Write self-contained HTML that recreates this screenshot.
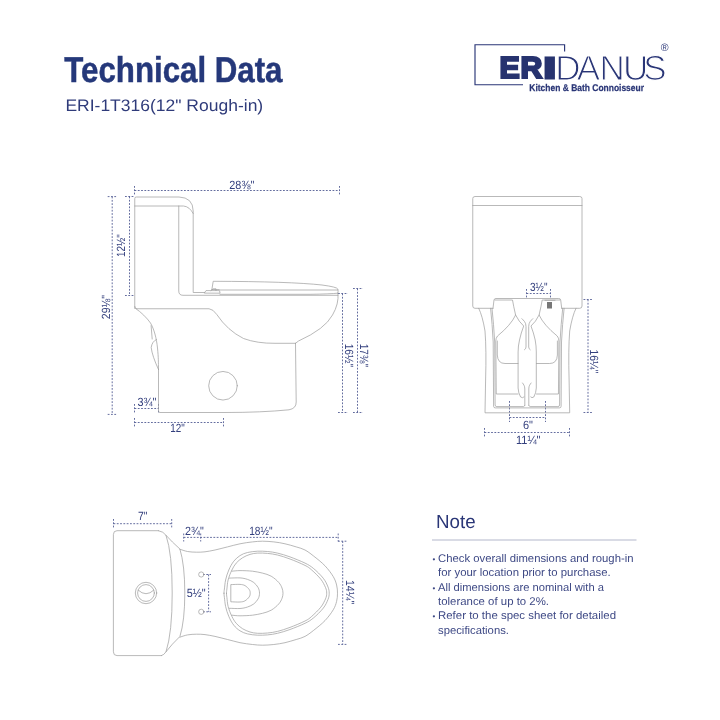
<!DOCTYPE html>
<html lang="en">
<head>
<meta charset="utf-8">
<title>Technical Data - ERI-1T316</title>
<style>
html,body{margin:0;padding:0;background:#fff;}
body{width:720px;height:720px;overflow:hidden;font-family:"Liberation Sans",sans-serif;}
svg{display:block;will-change:transform;}
text{font-family:"Liberation Sans",sans-serif;text-rendering:geometricPrecision;}
.ln{fill:none;stroke:#9d9d9d;stroke-width:0.72;stroke-linecap:round;stroke-linejoin:round;}
.dm{fill:none;stroke:#525c94;stroke-width:0.9;stroke-dasharray:1.8 1.5;}
.dt{font-size:11.9px;fill:#333f7d;}
.nt{font-size:11.2px;fill:#3e4985;}
</style>
</head>
<body>
<svg width="720" height="720" viewBox="0 0 720 720" fill="#2a3677">
<rect width="720" height="720" fill="#ffffff"/>

<!-- HEADER -->
<g id="header">
<text x="64.300" y="82.100" font-size="36" font-weight="bold" fill="#25387a" stroke="#25387a" stroke-width="0.500" textLength="218.200" lengthAdjust="spacingAndGlyphs">Technical Data</text>
<text x="65.400" y="111.300" font-size="16.600" fill="#2f3b7a" textLength="197.800" lengthAdjust="spacingAndGlyphs">ERI-1T316(12" Rough-in)</text>
</g>

<!-- LOGO -->
<g id="logo">
<path d="M564.600 51.500V44.750H475V84.750H523" fill="none" stroke="#2a3677" stroke-width="1.150"/>
<text font-weight="bold" fill="#27336f" stroke="#27336f" stroke-linejoin="miter"><tspan x="499.400" y="78.300" font-size="30.300" stroke-width="2.200" letter-spacing="0.800">ER</tspan><tspan x="546.400" y="75.900" font-size="23.300" stroke-width="7">I</tspan></text>
<text x="555.300 576.700 599.600 623 643.300" y="79.850" font-size="35" fill="#2a3677" stroke="#ffffff" stroke-width="1.100">DANUS</text>
<text x="529.300" y="91.200" font-size="9.700" font-weight="bold" fill="#2a3677" stroke="#2a3677" stroke-width="0.250" textLength="114.700" lengthAdjust="spacingAndGlyphs">Kitchen &amp; Bath Connoisseur</text>
<text x="660.700" y="50.700" font-size="10.600" fill="#2a3677">®</text>
</g>

<!-- SIDE VIEW -->
<g id="side">
<!-- dims -->
<path class="dm" d="M134.5 190.5H339.5M134.5 186V195M339.5 186V195"/>
<path class="dm" d="M112.200 196.600V414.400M107.700 196.600H116.700M107.700 414.400H116.700"/>
<path class="dm" d="M129.5 196.5V295.5M125 196.5H134M125 295.5H134"/>
<path class="dm" d="M134.5 408.5H158.5M134.5 404V413M158.5 404V413"/>
<path class="dm" d="M134.5 422.5H223.5M134.5 418V427M223.5 418V427"/>
<path class="dm" d="M342.5 293.5V412.5M338 293.5H348M338 412.5H348"/>
<path class="dm" d="M357.5 288.5V412.5M353 288.5H363M353 412.5H363"/>
<text class="dt" x="229.300" y="188.500" textLength="25" lengthAdjust="spacingAndGlyphs">28⅜"</text>
<text class="dt" transform="translate(110 319.200) rotate(-90)" textLength="24.200" lengthAdjust="spacingAndGlyphs">29⅛"</text>
<text class="dt" transform="translate(125.300 257) rotate(-90)" textLength="22.800" lengthAdjust="spacingAndGlyphs">12½"</text>
<text class="dt" x="137.5" y="406" textLength="19" lengthAdjust="spacingAndGlyphs">3¾"</text>
<text class="dt" x="170.300" y="432.200" textLength="14.500" lengthAdjust="spacingAndGlyphs">12"</text>
<text class="dt" transform="translate(344.600 343.700) rotate(90)" textLength="23.300" lengthAdjust="spacingAndGlyphs">16½"</text>
<text class="dt" transform="translate(359.600 343.700) rotate(90)" textLength="23.300" lengthAdjust="spacingAndGlyphs">17⅜"</text>
<!-- outline -->
<path class="ln" d="M134.75 308.5V198.5Q134.75 197 136.3 197H179Q193 197.5 193.2 211V292.5H204.5"/>
<path class="ln" d="M134.75 206H183.5Q189.5 206.5 193.2 213.5"/>
<path class="ln" d="M178.75 206V291Q178.75 295.3 183 295.3H338"/>
<path class="ln" d="M134.75 306.5Q134.75 308.75 137 308.75H209Q213 309 216.800 314.500Q227.500 330.500 243.500 338.500Q257 343.500 275 343.300H295.500"/>
<!-- hinge -->
<path class="ln" d="M204.5 292.8L206 290.6H219.5L220 292.8ZM211 290.6L213.2 288.8H216V290.6"/>
<!-- seat -->
<path class="ln" d="M211.9 289.5L213.2 281.3Q290 281.5 322 285Q337 287 337.8 289Q338.5 291 337.8 293.2"/>
<path class="ln" d="M211.9 289.5H219L220 290H337.8"/>
<path class="ln" d="M220 294.3H310Q330 294 337.8 293.2"/>
<!-- bowl -->
<path class="ln" d="M338 293.2Q339 304 332.5 315Q325 329 298.5 341L295.5 343.3"/>
<!-- pedestal -->
<path class="ln" d="M295.5 343.3L296.2 402Q296.3 408.5 289 409.8Q262 412.500 225 412.500H160Q158.500 412.500 158.500 411V369.500"/>
<path class="ln" d="M135.600 308.500C141 312 147 318 150.500 323C154 329 156.500 338 157.500 348S158.400 362 158.500 369.500"/>
<path class="ln" d="M151.100 325.600L152.200 339M156.500 339.500Q152 341.500 151.200 347.500Q152.200 356 158.500 369.500"/>
<circle class="ln" cx="223" cy="385.75" r="14.3"/>
</g>

<!-- FRONT VIEW -->
<g id="front">
<!-- dims -->
<path class="dm" d="M526.5 293.5H550.5M526.5 289V298M550.5 289V298"/>
<path class="dm" d="M588 299.500V412.500M583.500 299.500H593M583.500 412.500H593"/>
<path class="dm" d="M509.5 417.5H545.5M509.5 401V422M545.5 401V422"/>
<path class="dm" d="M484.5 432.5H569.5M484.5 428V437M569.5 428V437"/>
<text class="dt" x="530" y="291.200" textLength="17.500" lengthAdjust="spacingAndGlyphs">3½"</text>
<text class="dt" x="523" y="428.8" textLength="10" lengthAdjust="spacingAndGlyphs">6"</text>
<text class="dt" x="516" y="443.8" textLength="24.500" lengthAdjust="spacingAndGlyphs">11¼"</text>
<text class="dt" transform="translate(590.400 349.600) rotate(90)" textLength="23.700" lengthAdjust="spacingAndGlyphs">16¼"</text>
<!-- tank -->
<path class="ln" d="M493 308.3H475Q472.750 308.3 472.750 306V198.5Q472.750 196.5 475 196.500H579.7Q582 196.500 582 198.500V306Q582 308.300 579.7 308.300H561.7"/>
<path class="ln" d="M472.750 205.500H582"/>
<path class="ln" d="M493 308.300L494 300Q494.200 298.500 496 298.500H558.700Q560.500 298.500 560.700 300L561.700 308.300"/>
<!-- outer legs -->
<path class="ln" d="M478.750 308.300Q482.500 316 485 331Q486.500 350 485.600 380L485 412.800H569.700L569.100 380Q568.200 350 569.700 331Q572.200 316 576 308.300"/>
<!-- inner legs -->
<path class="ln" d="M490.600 308.300Q492.300 324 493.200 342L493.600 406.300Q493.700 407.900 495.300 407.900H559.400Q561 407.900 561.100 406.300L561.500 342Q562.400 324 564.100 308.300"/>
<path class="ln" d="M492 308.300Q493.700 324 494.700 342L495.100 405Q495.200 406.600 496.800 406.600H523.500L524.800 405.500M528.800 405.500L530.100 406.600H557.900Q559.500 406.600 559.600 405L560 342Q561 324 562.700 308.300"/>
<!-- shoulder panels -->
<path class="ln" d="M495 300H512.500Q513.500 306 515.600 315Q511 325 497.500 336Q495.800 338 495.800 341L496.250 394H518"/>
<path class="ln" d="M559.700 300H542.200Q541.200 306 539.100 315Q543.700 325 557.200 336Q558.900 338 558.900 341L558.450 394H536.500"/>
<path class="ln" d="M497.300 341V355Q497.700 363.500 505 363.500H518"/>
<path class="ln" d="M557.400 341V355Q557 363.500 549.700 363.500H536.500"/>
<!-- trap vase -->
<path class="ln" d="M515.600 315Q519 322 523.700 326Q521 333 519.500 340Q518.100 346 518.100 352V388Q518.300 393 520.600 397Q522.500 398.500 524 397"/>
<path class="ln" d="M539.100 315Q535.700 322 531 326Q533.700 333 535.200 340Q536.300 346 536.300 352V388Q536.100 393 533.800 397Q531.900 398.500 530.700 397"/>
<path class="ln" d="M521.900 318.700C523.500 320.500 526 322 526 326.500V347Q526 349 524.500 349.800"/>
<path class="ln" d="M532.800 318.700C531.200 320.500 528.700 322 528.700 326.500V347Q528.700 349 530.200 349.800"/>
<path class="ln" d="M522.500 383C523.500 384.500 524.800 385.500 524.800 389V405.500"/>
<path class="ln" d="M531.100 383C530.100 384.500 528.800 385.500 528.800 389V405.500"/>
<!-- button -->
<rect x="547" y="302" width="5" height="6.500" fill="#777" stroke="none"/>
<path class="ln" d="M545 300.300H555"/>
</g>

<!-- TOP VIEW -->
<g id="top">
<!-- dims -->
<path class="dm" d="M113.5 523.700H171.700M113.500 519V528M171.700 519V528"/>
<path class="dm" d="M183.700 537.400H338.200M183.700 533.500V541.500M200.700 533.500V541.500M338.200 533.500V541.500"/>
<path class="dm" d="M342.700 541.200V644.400M338 541.200H347M338 644.400H347"/>
<path class="dm" d="M208.600 574.500V611.800M203 574.500H211M203 611.800H211"/>
<text class="dt" x="138" y="519.500" textLength="9.500" lengthAdjust="spacingAndGlyphs">7"</text>
<text class="dt" x="185" y="535" textLength="18.700" lengthAdjust="spacingAndGlyphs">2¾"</text>
<text class="dt" x="249.200" y="535" textLength="23.300" lengthAdjust="spacingAndGlyphs">18½"</text>
<text class="dt" x="186.700" y="597.200" textLength="19" lengthAdjust="spacingAndGlyphs">5½"</text>
<text class="dt" transform="translate(345.500 580) rotate(90)" textLength="24.300" lengthAdjust="spacingAndGlyphs">14¼"</text>
<!-- tank -->
<path class="ln" d="M158.500 530.700H117Q113.400 530.700 113.400 534.500V651.800Q113.400 655.600 117 655.600H161.500"/>
<path class="ln" d="M158.500 530.700Q163.500 531.500 166 535.300Q172.200 553 172.200 593Q172.200 633 166 651.800Q164 655 161.500 655.600"/>
<path class="ln" d="M166 535.300Q172 542 179.900 549Q184.800 565 184.800 593Q184.800 621 179.900 636.500Q172 644 166 651.800"/>
<circle class="ln" cx="146" cy="593" r="10.700"/>
<circle class="ln" cx="146" cy="593" r="8.400"/>
<path class="ln" d="M138.300 590.200Q146 597.500 153.700 590.200"/>
<!-- neck + bowl outer -->
<path class="ln" d="M179.9 549.2C181.2 549.6 184.7 551 187.5 551.5C190.3 552 193.8 552.2 196.7 552.2C199.6 552.2 201.9 552.2 205 551.8C208.1 551.4 211.2 550.8 215 550C218.8 549.2 223.3 547.9 227.5 546.9C231.7 545.9 235.8 544.6 240 543.8C244.2 542.9 248.8 542.3 252.5 541.9C256.2 541.5 259 541.2 262.5 541.2C266 541.2 270 541.5 273.8 541.9C277.5 542.3 281.2 542.9 285 543.8C288.8 544.6 292.9 545.9 296.2 546.9C299.6 547.9 302.2 548.5 305 550C307.8 551.5 310 553.2 313.3 555.8C316.6 558.4 321.7 562.3 325 565.8C328.3 569.3 331.4 573.5 333.3 576.7C335.2 579.9 335.9 582.2 336.6 585C337.3 587.8 337.5 590.5 337.5 593.2C337.5 595.9 337.3 598.7 336.6 601.4C335.9 604.2 335.2 606.5 333.3 609.7C331.4 612.9 328.3 617.1 325 620.6C321.7 624.1 316.6 628 313.3 630.6C310 633.2 307.8 634.9 305 636.4C302.2 637.9 299.6 638.5 296.2 639.5C292.9 640.5 288.8 641.8 285 642.7C281.2 643.5 277.5 644.1 273.8 644.5C270 644.9 266 645.2 262.5 645.2C259 645.2 256.2 644.9 252.5 644.5C248.8 644.1 244.2 643.5 240 642.7C235.8 641.8 231.7 640.5 227.5 639.5C223.3 638.5 218.8 637.2 215 636.4C211.2 635.6 208.1 635 205 634.6C201.9 634.2 199.6 634.2 196.7 634.2C193.8 634.2 190.3 634.4 187.5 634.9C184.7 635.4 181.2 636.8 179.9 637.2"/>
<!-- seat rings -->
<path class="ln" d="M224 593.2C224 591.8 224.1 591.2 224.4 589C224.7 586.8 224.9 583.2 225.6 580C226.3 576.8 227.4 573.1 228.8 570C230.1 566.9 231.9 563.6 233.8 561.2C235.6 558.9 237.7 557.1 240 555.6C242.3 554.1 244.6 553.2 247.5 552.5C250.4 551.8 254.2 551.4 257.5 551.2C260.8 551.1 264.2 551.2 267.5 551.5C270.8 551.8 273.8 552.2 277.5 553.1C281.2 554 285.4 555.2 290 556.9C294.6 558.6 301.1 561.2 305 563.1C308.9 565 310.2 565.8 313.3 568.3C316.4 570.8 320.9 575.2 323.3 578.3C325.8 581.4 327 584.5 328 587C329 589.5 329.2 591.1 329.2 593.2C329.2 595.3 329 596.9 328 599.4C327 601.9 325.8 605 323.3 608.1C320.9 611.2 316.4 615.6 313.3 618.1C310.2 620.6 308.9 621.4 305 623.3C301.1 625.2 294.6 627.8 290 629.5C285.4 631.2 281.2 632.4 277.5 633.3C273.8 634.2 270.8 634.6 267.5 634.9C264.2 635.2 260.8 635.3 257.5 635.2C254.2 635 250.4 634.6 247.5 633.9C244.6 633.2 242.3 632.3 240 630.8C237.7 629.3 235.6 627.6 233.8 625.2C231.9 622.8 230.1 619.5 228.8 616.4C227.4 613.3 226.3 609.6 225.6 606.4C224.9 603.2 224.7 599.6 224.4 597.4C224.1 595.2 224 594.6 224 593.2Z"/>
<path class="ln" d="M226.5 593.2C226.5 591.8 226.6 591.2 226.9 589C227.2 586.8 227.3 583.2 228.1 580C228.9 576.8 230.5 572.8 231.9 570C233.3 567.2 234.5 565.1 236.2 563.1C238 561.1 240.2 559.2 242.5 557.8C244.8 556.3 247.5 555.2 250 554.4C252.5 553.6 254.6 553.3 257.5 553.1C260.4 552.9 264.2 553.1 267.5 553.4C270.8 553.7 273.8 554.1 277.5 555C281.2 555.9 285.4 557.3 290 559C294.6 560.7 301.4 563.6 305 565.4C308.6 567.2 309.1 567.7 311.7 570C314.3 572.3 318.5 576.3 320.8 579.2C323.1 582.1 324.5 585.2 325.5 587.5C326.5 589.8 326.7 591.3 326.7 593.2C326.7 595.1 326.5 596.6 325.5 598.9C324.5 601.2 323.1 604.3 320.8 607.2C318.5 610.1 314.3 614.1 311.7 616.4C309.1 618.7 308.6 619.2 305 621C301.4 622.8 294.6 625.7 290 627.4C285.4 629.1 281.2 630.5 277.5 631.4C273.8 632.3 270.8 632.7 267.5 633C264.2 633.3 260.4 633.5 257.5 633.3C254.6 633.1 252.5 632.8 250 632C247.5 631.2 244.8 630.1 242.5 628.7C240.2 627.2 238 625.3 236.2 623.3C234.5 621.3 233.3 619.2 231.9 616.4C230.5 613.6 228.9 609.6 228.1 606.4C227.3 603.2 227.2 599.6 226.9 597.4C226.6 595.2 226.5 594.6 226.5 593.2Z"/>
<!-- inner contours -->
<path class="ln" d="M231.9 571.2C233.2 571.1 236.6 570.6 240 570.6C243.4 570.6 248.8 570.8 252.5 571.2C256.2 571.7 259.4 572.3 262.5 573.1C265.6 573.9 268.5 574.7 271.2 576.2C274 577.8 277 580.5 278.8 582.5C280.5 584.5 281.3 586.2 282 588C282.7 589.8 283 591.5 283 593.2C283 594.9 282.7 596.6 282 598.4C281.3 600.2 280.5 601.9 278.8 603.9C277 605.9 274 608.6 271.2 610.2C268.5 611.7 265.6 612.5 262.5 613.3C259.4 614.1 256.2 614.7 252.5 615.2C248.8 615.6 243.4 615.8 240 615.8C236.6 615.8 233.2 615.3 231.9 615.2"/>
<path class="ln" d="M229.4 578.1C231.2 578.1 237 577.7 240 577.9C243 578.1 245.2 578.6 247.5 579.4C249.8 580.2 252 581.1 253.8 582.5C255.5 583.9 257.1 585.7 258.1 587.5C259.1 589.3 259.5 591.3 259.5 593.2C259.5 595.1 259.1 597.1 258.1 598.9C257.1 600.7 255.5 602.6 253.8 603.9C252 605.3 249.8 606.2 247.5 607C245.2 607.8 243 608.3 240 608.5C237 608.7 231.2 608.3 229.4 608.3"/>
<path class="ln" d="M231.2 584.6C232.7 584.6 237.7 584.2 240 584.4C242.3 584.6 243.5 584.8 245 585.6C246.5 586.5 248.3 588.2 249.2 589.5C250.1 590.8 250.2 592 250.2 593.2C250.2 594.4 250.1 595.6 249.2 596.9C248.3 598.2 246.5 600 245 600.8C243.5 601.7 242.3 601.8 240 602C237.7 602.2 232.7 601.8 231.2 601.8Z"/>
<!-- seat bolt holes -->
<circle class="ln" cx="201.250" cy="574.500" r="2.600"/>
<circle class="ln" cx="201.250" cy="611.800" r="2.600"/>
</g>

<!-- NOTE -->
<g id="note">
<text x="436" y="528.100" font-size="19" fill="#2a3677" textLength="39.600" lengthAdjust="spacingAndGlyphs">Note</text>
<line x1="432" y1="540" x2="636.500" y2="540" stroke="#b3b7cc" stroke-width="1.100"/>
<text class="nt" x="432.400" y="561.500" style="font-size:8px">•</text>
<text class="nt" x="438" y="561.500" textLength="195.5" lengthAdjust="spacingAndGlyphs">Check overall dimensions and rough-in</text>
<text class="nt" x="438" y="576" textLength="172.700" lengthAdjust="spacingAndGlyphs">for your location prior to purchase.</text>
<text class="nt" x="432.400" y="590.500" style="font-size:8px">•</text>
<text class="nt" x="438" y="590.500" textLength="166" lengthAdjust="spacingAndGlyphs">All dimensions are nominal with a</text>
<text class="nt" x="438" y="604.900" textLength="111" lengthAdjust="spacingAndGlyphs">tolerance of up to 2%.</text>
<text class="nt" x="432.400" y="619.400" style="font-size:8px">•</text>
<text class="nt" x="438" y="619.400" textLength="178" lengthAdjust="spacingAndGlyphs">Refer to the spec sheet for detailed</text>
<text class="nt" x="438" y="633.900" textLength="71" lengthAdjust="spacingAndGlyphs">specifications.</text>
</g>
</svg>
</body>
</html>
